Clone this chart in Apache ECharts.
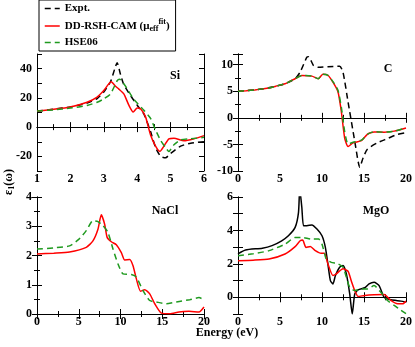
<!DOCTYPE html>
<html>
<head>
<meta charset="utf-8">
<script src="https://cdn.jsdelivr.net/npm/echarts@6/dist/echarts.min.js"></script>
<style>
  html, body { margin: 0; padding: 0; background: #fff; }
  #main { width: 415px; height: 347px; }
</style>
</head>
<body>
<div id="main"></div>
<script>
// eps1(omega) curves, [energy (eV), value]
const siExpt = [[1,11],[1.5,12.3],[2,13.8],[2.5,16.5],[2.8,19.5],[3.0,24],[3.2,31],[3.33,40],[3.4,44],[3.5,36],[3.6,29],[3.8,21.6],[4.0,15],[4.2,9],[4.4,-3],[4.55,-14],[4.7,-20],[4.85,-21],[5.0,-18],[5.3,-13],[5.6,-11],[6,-10]];
const siRsh = [[1,11],[1.5,12.2],[2,13.8],[2.5,17],[2.8,20.5],[3.0,25],[3.22,31],[3.35,28],[3.45,26],[3.6,22.7],[3.75,15],[3.88,10.3],[4.0,13],[4.1,12.6],[4.25,7],[4.4,-5.4],[4.55,-13],[4.68,-16.6],[4.8,-13],[4.95,-8],[5.1,-7.6],[5.4,-9.4],[5.7,-8],[6,-5.8]];
const siHse = [[1,11],[1.5,11.8],[2,13],[2.5,14.8],[2.8,17],[3.0,19.3],[3.2,22.7],[3.4,31.7],[3.47,32.8],[3.65,28],[3.9,19],[4.2,11.5],[4.4,6],[4.55,-2],[4.7,-9],[4.85,-14],[4.95,-16.6],[5.1,-12],[5.3,-8.8],[5.6,-8],[6,-7]];

const cExpt = [[0,5],[1,5.1],[2,5.25],[3,5.45],[4.5,5.95],[5.6,6.4],[6.8,7.35],[7.4,8.6],[8.2,11.4],[8.4,11.5],[9.0,9.8],[9.55,9.5],[10.7,9.6],[12.1,9.7],[12.5,8.6],[13.1,3.0],[13.9,-4.4],[14.5,-9.3],[14.9,-7.5],[15.4,-5.9],[16.6,-4.7],[17.8,-3.9],[19,-3.1],[20,-2.8]];
const cRsh = [[0,5],[1,5.1],[2,5.25],[3,5.45],[3.65,5.6],[4.5,5.95],[5.6,6.4],[6.8,7.35],[7.6,7.96],[8.8,7.84],[9.55,7.35],[10.1,8.2],[10.7,8.0],[11.3,6.7],[11.9,4.9],[12.3,1.2],[12.7,-3.8],[13.1,-5.4],[13.7,-4.7],[14.7,-4.3],[15.4,-3.1],[16.2,-2.65],[17.4,-2.7],[18.6,-2.5],[20,-1.9]];
const cHse = [[0,5],[1,5.1],[2,5.25],[3,5.45],[3.65,5.6],[4.5,5.95],[5.6,6.4],[6.8,7.35],[7.6,7.96],[8.8,7.84],[9.55,7.35],[10.1,8.2],[10.7,8.0],[11.3,6.8],[11.9,5.2],[12.3,2.0],[12.7,-2.6],[13.1,-4.9],[13.7,-4.6],[14.7,-4.2],[15.4,-3.1],[16.2,-2.6],[17.4,-2.7],[18.6,-2.5],[20,-1.9]];

const naclRsh = [[0,2.05],[2,2.08],[3.9,2.12],[5.9,2.28],[6.7,2.5],[7.3,2.9],[7.7,3.39],[8.1,3.07],[8.4,2.62],[8.9,2.47],[9.5,2.37],[10.1,2.1],[10.5,1.85],[11.1,1.86],[11.5,1.65],[11.9,1.2],[12.4,0.78],[12.9,0.83],[13.5,0.69],[14.1,0.35],[14.9,0.03],[15.9,0.01],[17,0.07],[18.2,0.09],[19.4,0.07],[20,0.24]];
const naclHse = [[0,2.22],[2,2.26],[3.9,2.33],[5,2.55],[5.9,2.85],[6.7,3.19],[7.3,3.16],[7.9,3.02],[8.5,2.79],[9.1,2.22],[9.7,1.71],[10.3,1.37],[11.3,1.35],[11.9,1.26],[12.7,0.8],[13.5,0.46],[14.3,0.41],[15.5,0.35],[16.7,0.41],[18.3,0.49],[19.4,0.56],[20,0.49]];

const mgoExpt = [[0,2.6],[0.9,2.83],[2.9,2.94],[4.05,3.09],[5.2,3.38],[6.0,3.68],[6.8,4.18],[7.2,5.07],[7.35,6.5],[7.6,5.37],[7.8,4.28],[8.2,4.28],[8.8,4.33],[9.4,4.08],[10.0,3.68],[10.4,2.99],[10.7,2.0],[11.0,1.0],[11.3,0.8],[11.6,1.3],[12.1,1.8],[12.5,1.9],[12.9,1.4],[13.3,0.2],[13.6,-1.0],[13.9,0.2],[14.3,0.45],[15.1,0.57],[15.6,0.8],[16.2,0.9],[16.8,0.7],[17.4,0.0],[18.2,-0.15],[19.4,-0.23],[20,-0.29]];
const mgoRsh = [[0,2.19],[1.8,2.22],[3.7,2.29],[5.6,2.59],[6.8,3.03],[7.4,3.38],[7.7,3.42],[8.1,2.98],[8.6,3.04],[9.2,2.79],[9.9,2.63],[10.3,2.63],[10.7,2.0],[11.3,1.3],[11.7,1.4],[12.5,1.7],[13.1,1.56],[13.5,0.96],[13.9,0.4],[14.3,0.05],[15.1,0.11],[16.2,0.15],[17.4,0.17],[18.2,-0.19],[19.0,-0.39],[19.6,-0.39],[20,-0.23]];
const mgoHse = [[0,2.49],[1.8,2.6],[3.7,2.79],[5.6,3.18],[6.8,3.58],[7.6,3.58],[8.8,3.48],[9.6,3.48],[10.0,3.18],[10.5,2.29],[11.1,2.09],[11.9,2.0],[12.5,1.8],[12.9,1.2],[13.3,0.6],[13.9,0.4],[14.7,0.5],[15.4,0.5],[16.2,0.7],[17.0,0.3],[17.8,-0.19],[18.6,-0.49],[19.4,-0.78],[20,-0.98]];

const panelNames = ['Si', 'C', 'NaCl', 'MgO'];
const legendNames = ['Expt.', 'DD-RSH-CAM', 'HSE06'];

const FONT = 'Liberation Serif';
const chart = echarts.init(document.getElementById('main'));

const grids = [
  { left: 37, top: 54, width: 167, height: 117 },
  { left: 238, top: 54, width: 170, height: 117 },
  { left: 37, top: 197, width: 167, height: 117 },
  { left: 238, top: 197, width: 170, height: 117 }
];

// x and y ranges per panel
const xr = [[1, 6, 1], [0, 20, 5], [0, 20, 5], [0, 20, 5]];
const yr = [
  { min: -30, max: 50, interval: 10, show: v => v % 20 === 0 && v < 50 && v > -30, minor: false },
  { min: -10, max: 12, interval: 5, show: v => true, minor: true },
  { min: 0, max: 4, interval: 1, show: v => true, minor: true },
  { min: -1, max: 6, interval: 1, show: v => v % 2 === 0, minor: false }
];

const lbl = { color: '#000', fontFamily: FONT, fontWeight: 'bold', fontSize: 12 };
const line = { lineStyle: { color: '#000', width: 1 } };
const tick = { inside: true, length: 5, lineStyle: { color: '#000', width: 1 } };

const xAxis = [], yAxis = [];
grids.forEach((g, i) => {
  [false, true].forEach(top => {
    xAxis.push({
      type: 'value', gridIndex: i, position: top ? 'top' : 'bottom',
      min: xr[i][0], max: xr[i][1], interval: xr[i][2],
      axisLine: line, axisTick: tick,
      minorTick: { show: true, splitNumber: 2, length: 3, lineStyle: { color: '#000' } },
      splitLine: { show: false },
      axisLabel: { show: !top, margin: 2, ...lbl }
    });
  });
  [false, true].forEach(right => {
    const y = yr[i];
    yAxis.push({
      type: 'value', gridIndex: i, position: right ? 'right' : 'left',
      min: y.min, max: y.max, interval: y.interval,
      axisLine: line, axisTick: tick,
      minorTick: { show: y.minor, splitNumber: 2, length: 3, lineStyle: { color: '#000' } },
      splitLine: { show: false },
      axisLabel: { show: !right, margin: 5, formatter: v => y.show(v) ? String(v) : '', ...lbl }
    });
  });
});

function mk(name, data, color, dashed, gi) {
  return {
    type: 'line', name: name, data: data,
    xAxisIndex: gi * 2, yAxisIndex: gi * 2,
    showSymbol: false, symbol: 'none', smooth: 0.2,
    lineStyle: { color: color, width: 1.5, type: dashed ? [6, 4] : 'solid' },
    itemStyle: { color: color },
    emphasis: { disabled: true },
    silent: true, animation: false
  };
}

const BLACK = '#000', RED = '#ff0000', GREEN = '#1f9a1f';

const series = [
  mk(legendNames[0], siExpt, BLACK, true, 0),
  mk(legendNames[1], siRsh, RED, false, 0),
  mk(legendNames[2], siHse, GREEN, true, 0),
  mk(legendNames[0], cExpt, BLACK, true, 1),
  mk(legendNames[1], cRsh, RED, false, 1),
  mk(legendNames[2], cHse, GREEN, true, 1),
  mk(legendNames[1], naclRsh, RED, false, 2),
  mk(legendNames[2], naclHse, GREEN, true, 2),
  mk(legendNames[0], mgoExpt, BLACK, false, 3),
  mk(legendNames[1], mgoRsh, RED, false, 3),
  mk(legendNames[2], mgoHse, GREEN, true, 3)
];

const panelPos = [[175, 76], [388, 69], [165, 211], [376, 211]];

const option = {
  animation: false,
  grid: grids,
  xAxis: xAxis,
  yAxis: yAxis,
  legend: {
    data: legendNames,
    orient: 'vertical',
    left: 39, top: 0,
    padding: [3, 6, 3, 5],
    itemWidth: 15, itemHeight: 10, itemGap: 4,
    borderColor: '#000', borderWidth: 1,
    selectedMode: false,
    itemStyle: { opacity: 0 },
    lineStyle: { width: 1.5 },
    textStyle: {
      ...lbl, fontSize: 11,
      rich: {
        sub: { fontFamily: FONT, fontWeight: 'bold', fontSize: 8, padding: [6, 0, 0, 0] },
        sup: { fontFamily: FONT, fontWeight: 'bold', fontSize: 8, padding: [0, 0, 8, 0] }
      }
    },
    formatter: n => n === 'DD-RSH-CAM' ? 'DD-RSH-CAM (\u03bc{sub|eff}{sup|fit})' : n
  },
  graphic: [
    ...panelNames.map((t, i) => ({
      type: 'text', x: panelPos[i][0], y: panelPos[i][1], silent: true,
      style: { text: t, fill: '#000', align: 'center', verticalAlign: 'middle', font: 'bold 12px ' + FONT }
    })),
    {
      type: 'text', x: 227, y: 333, silent: true,
      style: { text: 'Energy (eV)', fill: '#000', font: 'bold 12px ' + FONT, align: 'center', verticalAlign: 'middle' }
    },
    {
      type: 'text', x: 9, y: 182, rotation: Math.PI / 2, silent: true,
      style: {
        text: '\u03b5{s|1}(\u03c9)', fill: '#000', font: 'bold 12px ' + FONT,
        align: 'center', verticalAlign: 'middle',
        rich: { s: { font: 'bold 8px ' + FONT, fill: '#000', padding: [6, 0, 0, 0] } }
      }
    }
  ],
  series: series
};

chart.setOption(option);
</script>
</body>
</html>
